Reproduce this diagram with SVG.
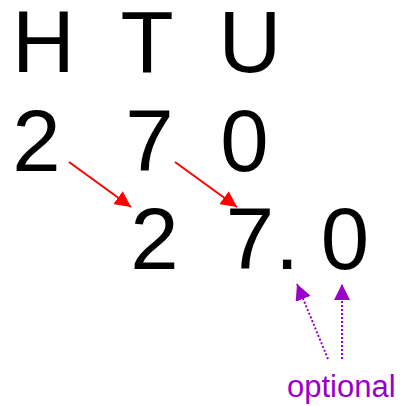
<svg xmlns="http://www.w3.org/2000/svg" width="403" height="406" viewBox="0 0 403 406">
<style>
.big{font-family:"Liberation Sans",Arial,sans-serif;font-size:87px;fill:#000;text-anchor:middle}
.opt{font-family:"Liberation Sans",Arial,sans-serif;font-size:31px;fill:#9900cc}
.red{stroke:#ff0000;stroke-width:2;fill:none}
.pur{stroke:#9900cc;stroke-width:2;stroke-dasharray:2,2;fill:none}
</style>
<defs>
<marker id="ar" markerUnits="userSpaceOnUse" markerWidth="18" markerHeight="16" refX="16" refY="8" orient="auto" viewBox="0 0 18 16">
<path d="M0,0 L16,8 L0,16 Z" fill="#ff0000"/>
</marker>
<marker id="ap" markerUnits="userSpaceOnUse" markerWidth="18" markerHeight="16" refX="16" refY="8" orient="auto" viewBox="0 0 18 16">
<path d="M0,0 L16,8 L0,16 Z" fill="#9900cc"/>
</marker>
</defs>
<g id="headers">
<text class="big" x="43.5" y="72">H</text>
<text class="big" x="147" y="72">T</text>
<text class="big" x="250" y="72">U</text>
</g>
<g id="row1">
<text class="big" x="36.5" y="171">2</text>
<text class="big" x="149.5" y="171">7</text>
<text class="big" x="244.5" y="171">0</text>
</g>
<g id="row2">
<text class="big" x="154.5" y="269">2</text>
<text class="big" x="250" y="269">7</text>
<text class="big" x="287" y="269">.</text>
<text class="big" x="345" y="269">0</text>
</g>
<g id="label">
<text class="opt" x="287" y="397">optional</text>
</g>
<g id="connectors">
<line class="red" x1="69" y1="162" x2="131" y2="207" marker-end="url(#ar)"/>
<line class="red" x1="175" y1="162" x2="237" y2="207" marker-end="url(#ar)"/>
<line class="pur" x1="328" y1="359" x2="297" y2="284" marker-end="url(#ap)"/>
<line class="pur" x1="342" y1="359" x2="342" y2="284" marker-end="url(#ap)"/>
</g>
</svg>
